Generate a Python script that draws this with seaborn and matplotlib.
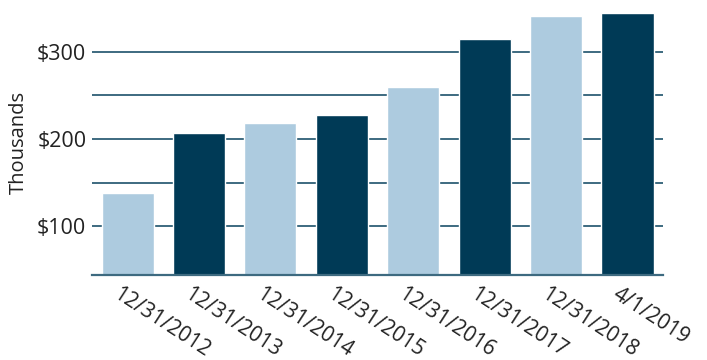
import matplotlib
matplotlib.use("Agg")
import matplotlib.pyplot as plt
import matplotlib.transforms as mtransforms
import seaborn as sns
import pandas as pd

categories = ["12/31/2012", "12/31/2013", "12/31/2014", "12/31/2015",
              "12/31/2016", "12/31/2017", "12/31/2018", "4/1/2019"]
values = [138, 207, 218, 228, 260, 315, 341, 345]
shades = ["light", "dark", "light", "dark", "light", "dark", "light", "dark"]
ytick_values = [100, 200, 300]
ytick_labels = ["$100", "$200", "$300"]
grid_values = [100, 150, 200, 250, 300]

palette = {"light": "#adcbdf", "dark": "#003a56"}
grid_color = "#3d6a80"
text_color = "#222222"

sns.set_theme(style="white")
plt.rcParams["font.family"] = ["Open Sans", "DejaVu Sans"]

df = pd.DataFrame({"date": categories, "value": values, "shade": shades})

fig = plt.figure(figsize=(7.07, 3.6), dpi=100)
ax = fig.add_axes([0.130, 0.236, 0.808, 0.736])

for g in grid_values:
    ax.axhline(g, color=grid_color, linewidth=1.4, zorder=0)

sns.barplot(data=df, x="date", y="value", hue="shade", palette=palette,
            dodge=False, width=0.73, legend=False, ax=ax, zorder=2,
            saturation=1)

ax.set_ylim(44, 348)
ax.set_xlim(-0.5, 7.5)
ax.set_yticks(ytick_values)
ax.set_yticklabels(ytick_labels, fontsize=15.5, color=text_color)
ax.tick_params(axis="y", length=0, pad=4)
ax.tick_params(axis="x", length=0, pad=6)
ax.set_xticks(range(len(categories)))
ax.set_xticklabels(categories, rotation=-33, ha="left", rotation_mode="anchor",
                   fontsize=15, color=text_color)
offset = mtransforms.ScaledTranslation(-7 / 100, 0, fig.dpi_scale_trans)
for lbl in ax.get_xticklabels():
    lbl.set_transform(lbl.get_transform() + offset)
ax.set_xlabel("")
ax.set_ylabel("Thousands", fontsize=14.5, color=text_color, labelpad=6)

for s in ["top", "right", "left"]:
    ax.spines[s].set_visible(False)
ax.spines["bottom"].set_color(grid_color)
ax.spines["bottom"].set_linewidth(1.6)
ax.spines["bottom"].set_zorder(3)

fig.savefig("out.png", dpi=100)
